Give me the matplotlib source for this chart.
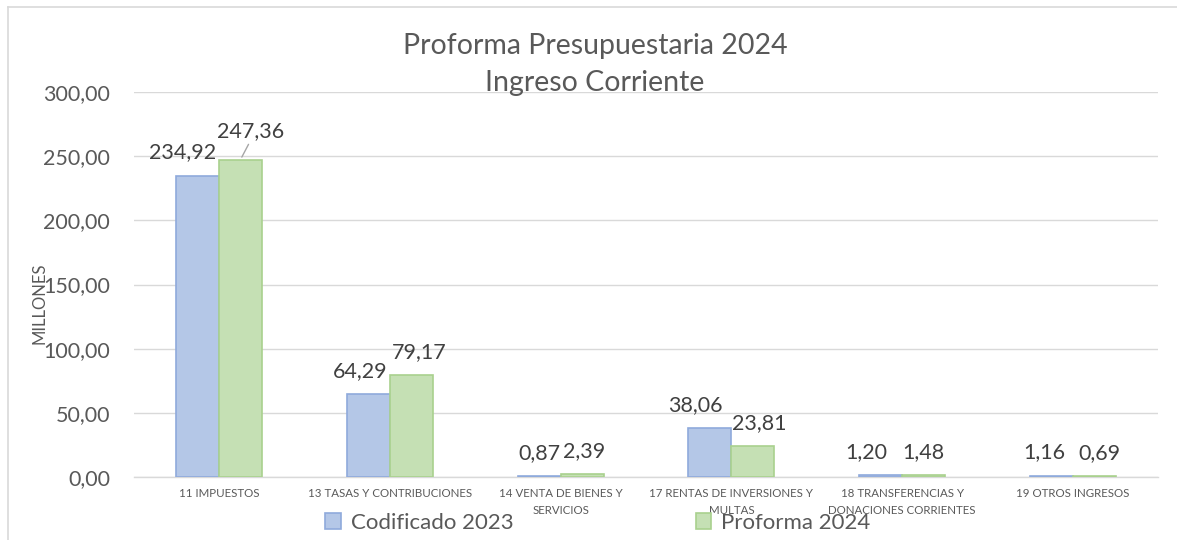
import numpy as np
import matplotlib
matplotlib.use('Agg')
from matplotlib import pyplot as plt
from matplotlib.patches import Patch
from matplotlib.lines import Line2D

plt.rcParams['font.family'] = ['Lato', 'DejaVu Sans']

# datos (millones)
categorias = ['11 IMPUESTOS', '13 TASAS Y CONTRIBUCIONES', '14 VENTA DE BIENES Y\nSERVICIOS',
              '17 RENTAS DE INVERSIONES Y\nMULTAS', '18 TRANSFERENCIAS Y\nDONACIONES CORRIENTES',
              '19 OTROS INGRESOS']
codificado_2023 = [234.92, 64.29, 0.87, 38.06, 1.20, 1.16]
proforma_2024 = [247.36, 79.17, 2.39, 23.81, 1.48, 0.69]
series_names = ['Codificado 2023', 'Proforma 2024']
yticks = [0, 50, 100, 150, 200, 250, 300]

# desplazamiento horizontal de las etiquetas (pixeles), como en el original
off_cod = [-14.5, -8, 0, -14.5, -14, -7]
off_pro = [10, 8, 2, 6, 0, 4.5]

txt = '#595959'
dark = '#404040'
grid = '#D9D9D9'
blue_fc, blue_ec = '#B4C7E7', '#8FAADC'
green_fc, green_ec = '#C5E0B4', '#A9D18E'

W, H = 1177, 540
fig = plt.figure(figsize=(W / 100, H / 100), dpi=100)
ax = fig.add_axes([133.6 / W, 1 - 477 / H, (1158.4 - 133.6) / W, (477 - 92) / H])

x = np.arange(len(categorias))
bw = 0.252
ax.bar(x - bw / 2, codificado_2023, bw, color=blue_fc, edgecolor=blue_ec, linewidth=1.2, zorder=3)
ax.bar(x + bw / 2, proforma_2024, bw, color=green_fc, edgecolor=green_ec, linewidth=1.2, zorder=3)

ax.set_xlim(-0.5, len(categorias) - 0.5)
ax.set_ylim(0, 300)
ax.set_yticks(yticks)
ax.set_yticklabels([f'{v:.2f}'.replace('.', ',') for v in yticks], fontsize=15.5, color=txt)
ax.yaxis.grid(True, color=grid, linewidth=1.0, zorder=0)
ax.tick_params(axis='y', length=0, pad=17)
ax.set_xticks(x)
ax.set_xticklabels(categorias, fontsize=8.3, color=txt, linespacing=1.6)
ax.tick_params(axis='x', length=0, pad=8)
for s in ['top', 'right', 'left']:
    ax.spines[s].set_visible(False)
ax.spines['bottom'].set_color(grid)
ax.spines['bottom'].set_linewidth(1.0)
ax.set_axisbelow(True)

px = 72 / 100  # pixeles -> puntos
for i in range(len(categorias)):
    v = codificado_2023[i]
    ax.annotate(f'{v:.2f}'.replace('.', ','), (x[i] - bw / 2, v),
                xytext=(off_cod[i] * px, 17 * px), textcoords='offset points',
                ha='center', va='baseline', fontsize=15.5, color=dark, zorder=5)
    v = proforma_2024[i]
    if i == 0:
        ax.annotate(f'{v:.2f}'.replace('.', ','), (x[i] + bw / 2, v),
                    xytext=(off_pro[i] * px, 22 * px), textcoords='offset points',
                    ha='center', va='baseline', fontsize=15.5, color=dark, zorder=5,
                    arrowprops=dict(arrowstyle='-', color='#A6A6A6', lw=1,
                                    relpos=(0.5, 0.05), shrinkA=0, shrinkB=2))
    else:
        ax.annotate(f'{v:.2f}'.replace('.', ','), (x[i] + bw / 2, v),
                    xytext=(off_pro[i] * px, 17 * px), textcoords='offset points',
                    ha='center', va='baseline', fontsize=15.5, color=dark, zorder=5)

fig.text(39 / W, 1 - 303 / H, 'MILLONES', rotation=90, ha='center', va='center',
         fontsize=12, color=txt)

fig.text(595 / W, 1 - 54 / H, 'Proforma Presupuestaria 2024', ha='center', va='baseline',
         fontsize=20.5, color=txt)
fig.text(595 / W, 1 - 91 / H, 'Ingreso Corriente', ha='center', va='baseline',
         fontsize=20.5, color=txt)

handles = [Patch(facecolor=blue_fc, edgecolor=blue_ec, linewidth=1.2),
           Patch(facecolor=green_fc, edgecolor=green_ec, linewidth=1.2)]
fig.legend(handles, series_names, loc='center', bbox_to_anchor=(598 / W, 1 - 523 / H),
           ncol=2, frameon=False, fontsize=16, labelcolor=txt,
           handlelength=0.7, handleheight=0.7, handletextpad=0.45, columnspacing=8.2,
           borderpad=0, borderaxespad=0)

# marco del grafico
x0, y0 = 8 / W, 1 - 6.5 / H
fig.add_artist(Line2D([x0, x0], [0, y0], color=grid, lw=1.2, transform=fig.transFigure))
fig.add_artist(Line2D([x0, 1], [y0, y0], color=grid, lw=1.2, transform=fig.transFigure))

fig.savefig('out.png', dpi=100)
